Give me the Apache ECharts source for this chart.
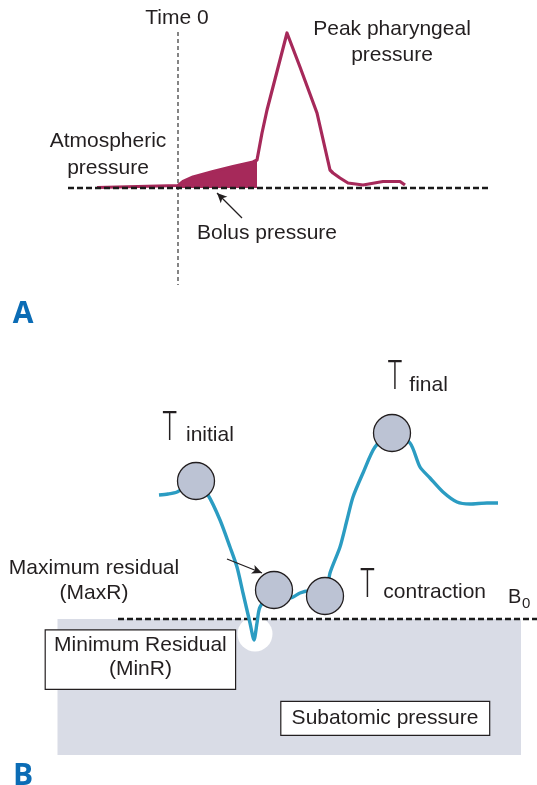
<!DOCTYPE html>
<html>
<head>
<meta charset="utf-8">
<script src="https://cdn.jsdelivr.net/npm/echarts@6/dist/echarts.min.js"></script>
<style>
html,body{margin:0;padding:0;background:#fff;}
#chart{width:537px;height:785px;}
</style>
</head>
<body>
<div id="chart"></div>
<script>
// ---------- Panel A: pharyngeal pressure (time relative to Time 0, pressure relative to atmospheric) ----------
const timeA     = [-81, 0, 5, 15, 35, 55, 75, 79, 84, 89, 109, 122, 139, 152, 155, 162, 170, 185, 205, 222, 227];
const pressureA = [0.5, 2.5, 6.5, 11, 16.5, 21.5, 26, 28, 55, 78, 155, 121, 75, 18, 15, 10, 5, 3, 6.5, 6.5, 3];
const bolusTime     = [0, 5, 15, 35, 55, 75, 79, 79];
const bolusPressure = [2.5, 6.5, 11, 16.5, 21.5, 26, 28, 0];
const atmTime     = [-110, 310];
const atmPressure = [0, 0];
const time0Time     = [0, 0];
const time0Pressure = [156, -97];
const bolusArrowTime     = [64, 39];
const bolusArrowPressure = [-30, -5];

// ---------- Panel B: residual pressures (time relative to T initial, pressure relative to B0) ----------
const timeB     = [-37, -28, -19, 0, 12, 24, 34, 41, 47, 54, 58, 61, 64, 78, 94, 104, 112, 129, 134, 144, 151, 157, 167, 179, 196, 214, 224, 234, 247, 261, 274, 291, 302];
const pressureB = [124, 125, 127, 138, 124, 99, 72, 52, 26, -4, -21, -4, 12, 29, 21, 26, 28, 23, 46, 72, 99, 122, 146, 172, 186, 176, 152, 141, 127, 117, 115, 116, 116];
const markerTime     = [0, 78, 129, 196];
const markerPressure = [138, 29, 23, 186];
const minRTime = [59], minRPressure = [-15];
const b0Time     = [-78, 341];
const b0Pressure = [0, 0];
const subAtmTime     = [-138.5, 325];
const subAtmPressure = [0, -136];
const maxRArrowTime     = [31, 66];
const maxRArrowPressure = [60, 46];

const pair = (xs, ys) => xs.map((x, i) => [x, ys[i]]);
const txt = '#231f20';
const red = '#a6295a';
const blue = '#2b9cc2';
const FF = '"Liberation Sans", Arial, Helvetica, sans-serif';

const chart = echarts.init(document.getElementById('chart'), null, {renderer: 'canvas'});

function label(text, x, y, opts) {
  return {
    type: 'text', z: 100,
    style: Object.assign({text, x, y, fill: txt, fontSize: 21, fontFamily: FF, align: 'center', verticalAlign: 'middle'}, opts || {})
  };
}
function tee(x, y) {
  return {type: 'text', z: 100, x: x, y: y, scaleX: 0.62,
    style: {text: 'T', x: 0, y: 0, fill: txt, fontSize: 40, fontFamily: 'Roboto', fontWeight: 300, align: 'center', verticalAlign: 'middle'}};
}

const option = {
  animation: false,
  grid: [
    {left: 0, width: 537, top: 0, height: 320},
    {left: 0, width: 537, top: 340, height: 445}
  ],
  xAxis: [
    {type: 'value', gridIndex: 0, min: -178, max: 359, show: false},
    {type: 'value', gridIndex: 1, min: -196, max: 341, show: false}
  ],
  yAxis: [
    {type: 'value', gridIndex: 0, min: -132, max: 188, show: false},
    {type: 'value', gridIndex: 1, min: -166, max: 279, show: false}
  ],
  series: [
    // Panel A
    {type: 'line', xAxisIndex: 0, yAxisIndex: 0, data: pair(time0Time, time0Pressure), symbol: 'none', z: 1,
      lineStyle: {color: '#333', width: 1.2, type: [4, 3]}},
    {type: 'line', xAxisIndex: 0, yAxisIndex: 0, data: pair(bolusTime, bolusPressure), symbol: 'none', z: 2,
      lineStyle: {width: 0}, areaStyle: {color: red, opacity: 1, origin: 0}},
    {type: 'line', xAxisIndex: 0, yAxisIndex: 0, data: pair(timeA, pressureA), symbol: 'none', z: 3,
      lineStyle: {color: red, width: 3.2, join: 'round'}},
    {type: 'line', xAxisIndex: 0, yAxisIndex: 0, data: pair(atmTime, atmPressure), symbol: 'none', z: 4,
      lineStyle: {color: '#1a1a1a', width: 2.5, type: [6, 3]}},
    {type: 'line', xAxisIndex: 0, yAxisIndex: 0, data: [], symbol: 'none', z: 5,
      markLine: {silent: true, symbol: ['none', 'arrow'], symbolSize: [7, 10], label: {show: false},
        lineStyle: {color: txt, width: 1.2, type: 'solid'},
        data: [[{coord: [bolusArrowTime[0], bolusArrowPressure[0]]}, {coord: [bolusArrowTime[1], bolusArrowPressure[1]]}]]}},
    // Panel B
    {type: 'line', xAxisIndex: 1, yAxisIndex: 1, data: [], symbol: 'none', z: 1,
      markArea: {silent: true, itemStyle: {color: '#d9dce6', opacity: 1},
        data: [[{coord: [subAtmTime[0], subAtmPressure[0]]}, {coord: [subAtmTime[1], subAtmPressure[1]]}]]}},
    {type: 'scatter', xAxisIndex: 1, yAxisIndex: 1, data: pair(minRTime, minRPressure), symbolSize: 35, z: 2,
      itemStyle: {color: '#fff', opacity: 1}},
    {type: 'line', xAxisIndex: 1, yAxisIndex: 1, data: pair(b0Time, b0Pressure), symbol: 'none', z: 3,
      lineStyle: {color: '#1a1a1a', width: 2.5, type: [6, 3]}},
    {type: 'line', xAxisIndex: 1, yAxisIndex: 1, data: pair(timeB, pressureB), symbol: 'none', z: 4, smooth: 0.25,
      lineStyle: {color: blue, width: 3.4, join: 'round'}},
    {type: 'scatter', xAxisIndex: 1, yAxisIndex: 1, data: pair(markerTime, markerPressure), symbolSize: 37, z: 5,
      itemStyle: {color: '#bcc3d4', borderColor: txt, borderWidth: 1.3, opacity: 1}},
    {type: 'line', xAxisIndex: 1, yAxisIndex: 1, data: [], symbol: 'none', z: 6,
      markLine: {silent: true, symbol: ['none', 'arrow'], symbolSize: [7, 10], label: {show: false},
        lineStyle: {color: txt, width: 1.2, type: 'solid'},
        data: [[{coord: [maxRArrowTime[0], maxRArrowPressure[0]]}, {coord: [maxRArrowTime[1], maxRArrowPressure[1]]}]]}}
  ],
  graphic: [
    label('Time 0', 177, 18.6),
    label('Peak pharyngeal\npressure', 392, 16.5, {verticalAlign: 'top', lineHeight: 26}),
    label('Atmospheric\npressure', 108, 127.7, {verticalAlign: 'top', lineHeight: 26.7}),
    label('Bolus pressure', 267, 233.3),
    label('A', 23, 314, {fontSize: 30, fontWeight: 'bold', fontFamily: '"Open Sans", sans-serif', fill: '#0b6cb5'}),
    label('B', 23, 776, {fontSize: 30, fontWeight: 'bold', fontFamily: '"Open Sans", sans-serif', fill: '#0b6cb5'}),
    tee(169.7, 429.5), label('initial', 186, 435.6, {align: 'left'}),
    tee(395, 378.5), label('final', 409.3, 385, {align: 'left'}),
    tee(367.5, 586.5), label('contraction', 383.3, 592.6, {align: 'left'}),
    label('Maximum residual\n(MaxR)', 94, 555.5, {verticalAlign: 'top', lineHeight: 25.4}),
    label('B', 508, 597, {align: 'left', fontSize: 20}),
    label('0', 522, 604, {align: 'left', fontSize: 15}),
    {type: 'rect', z: 99, shape: {x: 45.2, y: 629.8, width: 190.4, height: 59.6},
      style: {fill: '#fff', stroke: txt, lineWidth: 1.2}},
    label('Minimum Residual\n(MinR)', 140.4, 633.6, {verticalAlign: 'top', lineHeight: 24}),
    {type: 'rect', z: 99, shape: {x: 280.8, y: 701.4, width: 208.9, height: 33.9},
      style: {fill: '#fff', stroke: txt, lineWidth: 1.2}},
    label('Subatomic pressure', 385, 717.8)
  ]
};
chart.setOption(option);
</script>
</body>
</html>
